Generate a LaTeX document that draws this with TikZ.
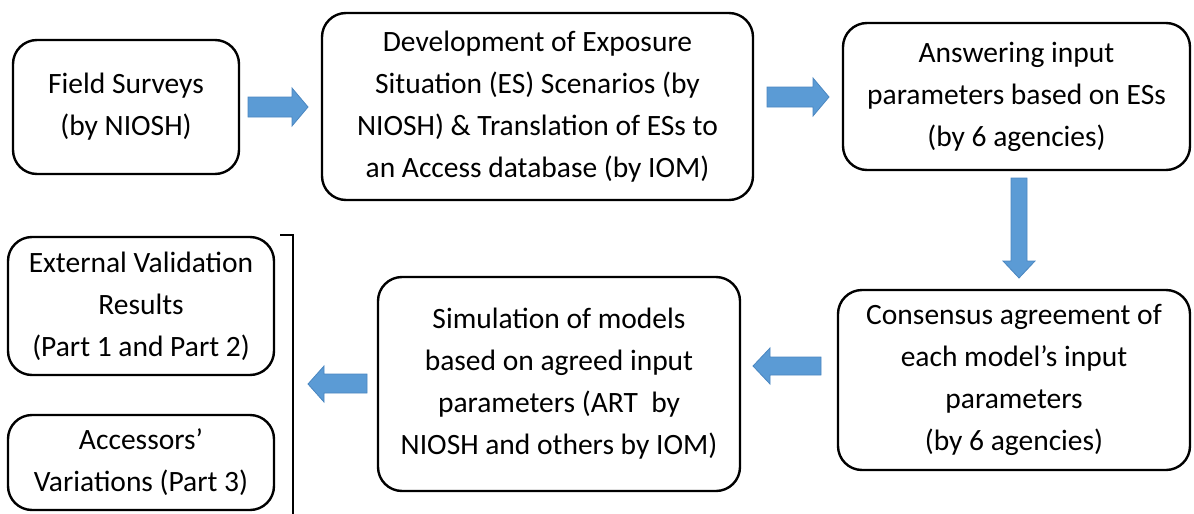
\documentclass[tikz,border=0pt]{standalone}
\usepackage{fontspec}
\setmainfont{Carlito}
\definecolor{arrowblue}{HTML}{5B9BD5}
\definecolor{arrowedge}{HTML}{4A86C0}
\begin{document}
\begin{tikzpicture}[x=1pt,y=-1pt,
  stepbox/.style={draw=black, line width=2.4pt, rounded corners=24pt,
    align=center, inner sep=0pt, font=\fontsize{29.5}{42}\selectfont},
  blockarrow/.style={fill=arrowblue, draw=arrowedge, line width=0.8pt, line join=miter}]
\useasboundingbox (0,0) rectangle (1194,514);

% process boxes
\node[stepbox, minimum width=226pt, minimum height=134pt] (survey) at (126,107)
  {Field Surveys\\(by NIOSH)};
\node[stepbox, minimum width=431pt, minimum height=187pt] (develop) at (537.5,106.5)
  {Development of Exposure\\Situation (ES) Scenarios (by\\NIOSH) \& Translation of ESs to\\an Access database (by IOM)};
\node[stepbox, minimum width=347pt, minimum height=147pt] (answer) at (1016.5,96.5)
  {Answering input\\parameters based on ESs\\(by 6 agencies)};
\node[stepbox, minimum width=352pt, minimum height=180pt] (consensus) at (1014,380)
  {Consensus agreement of\\each model’s input\\parameters\\(by 6 agencies)};
\node[stepbox, minimum width=362pt, minimum height=214pt] (simulate) at (559,384)
  {Simulation of models\\based on agreed input\\parameters (ART\ \ by\\NIOSH and others by IOM)};
\node[stepbox, minimum width=266pt, minimum height=138pt] (external) at (141,306)
  {External Validation\\Results\\(Part 1 and Part 2)};
\node[stepbox, minimum width=266pt, minimum height=95pt] (accessors) at (141,462.5)
  {Accessors’\\Variations (Part 3)};

% bracket grouping the two result boxes
\coordinate (brtop) at (280,235);
\coordinate (brcorner) at (293,235);
\coordinate (brend) at (293,514);
\draw[line width=2pt] (brtop) -- (brcorner) -- (brend);

% block arrows between the steps
\filldraw[blockarrow] (248,97) -- (292,97) -- (292,88) -- (308,107) -- (292,126)
  -- (292,117) -- (248,117) -- cycle;
\filldraw[blockarrow] (767,87) -- (813,87) -- (813,78) -- (829,97) -- (813,116)
  -- (813,107) -- (767,107) -- cycle;
\filldraw[blockarrow] (1011,178) -- (1027,178) -- (1027,261) -- (1035,261) -- (1019,278)
  -- (1003,261) -- (1011,261) -- cycle;
\filldraw[blockarrow] (821,357) -- (770,357) -- (770,348) -- (753,366) -- (770,384)
  -- (770,375) -- (821,375) -- cycle;
\filldraw[blockarrow] (367,374) -- (324,374) -- (324,366) -- (308,384) -- (324,402)
  -- (324,393) -- (367,393) -- cycle;
\end{tikzpicture}
\end{document}
